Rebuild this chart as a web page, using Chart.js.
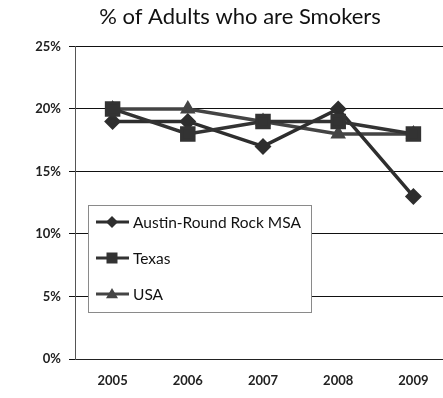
<!DOCTYPE html>
<html>
<head>
<meta charset="utf-8">
<script src="https://cdn.jsdelivr.net/npm/chart.js@4.4.1/dist/chart.umd.min.js"></script>
<style>
  html, body { margin: 0; padding: 0; background: #fff; overflow: hidden; }
  #wrap { width: 480px; height: 398px; }
</style>
</head>
<body>
<div id="wrap"><canvas id="c" width="480" height="398"></canvas></div>
<script>
const years = ['2005', '2006', '2007', '2008', '2009'];
const austin = [19, 19, 17, 20, 13];
const texas = [20, 18, 19, 19, 18];
const usa = [20, 20, 19, 18, 18];
const seriesNames = ['Austin-Round Rock MSA', 'Texas', 'USA'];
const yTicks = [0, 5, 10, 15, 20, 25];

function marker(ctx, style, x, y, r, color) {
  ctx.save();
  ctx.fillStyle = color;
  ctx.beginPath();
  if (style === 'rectRot') {
    ctx.moveTo(x, y - r); ctx.lineTo(x + r, y); ctx.lineTo(x, y + r); ctx.lineTo(x - r, y);
  } else if (style === 'rect') {
    ctx.rect(x - r, y - r, r * 2, r * 2);
  } else {
    ctx.moveTo(x, y - r); ctx.lineTo(x + r, y + r * 0.7); ctx.lineTo(x - r, y + r * 0.7);
  }
  ctx.closePath();
  ctx.fill();
  ctx.restore();
}

// Boxed legend drawn inside the plot area
const boxLegend = {
  id: 'boxLegend',
  afterDatasetsDraw(chart) {
    const ctx = chart.ctx;
    const bx = 88, by = 205, bw = 223, bh = 107;
    ctx.save();
    ctx.fillStyle = '#fff';
    ctx.fillRect(bx, by, bw, bh);
    ctx.strokeStyle = '#8a8a8a';
    ctx.lineWidth = 1;
    ctx.strokeRect(bx + 0.5, by + 0.5, bw, bh);
    const rows = [222, 258, 294];
    const sizes = { rectRot: 6, rect: 5.5, triangle: 6 };
    chart.data.datasets.forEach((ds, i) => {
      const y = rows[i];
      ctx.strokeStyle = ds.borderColor;
      ctx.lineWidth = 3;
      ctx.beginPath();
      ctx.moveTo(96, y); ctx.lineTo(129, y);
      ctx.stroke();
      marker(ctx, ds.pointStyle, 112, y, sizes[ds.pointStyle], ds.borderColor);
      ctx.fillStyle = '#111';
      ctx.font = '15.5px Lato';
      ctx.textBaseline = 'middle';
      ctx.textAlign = 'left';
      ctx.fillText(ds.label, 133, y + 1);
    });
    ctx.restore();
  }
};

new Chart(document.getElementById('c'), {
  type: 'line',
  data: {
    labels: years,
    datasets: [
      { label: seriesNames[0], data: austin, borderColor: '#2e2e2e', backgroundColor: '#2e2e2e', order: 1,
        pointStyle: 'rectRot', pointRadius: 6, borderWidth: 3.5, tension: 0 },
      { label: seriesNames[1], data: texas, borderColor: '#333', backgroundColor: '#333', order: 0,
        pointStyle: 'rect', pointRadius: 8.5, borderWidth: 3.5, tension: 0 },
      { label: seriesNames[2], data: usa, borderColor: '#444', backgroundColor: '#444', order: 2,
        pointStyle: 'triangle', pointRadius: 5.5, borderWidth: 3.5, tension: 0 }
    ]
  },
  options: {
    responsive: false,
    animation: false,
    devicePixelRatio: 1,
    layout: { padding: 0 },
    plugins: {
      legend: { display: false },
      tooltip: { enabled: false },
      title: {
        display: true,
        text: '% of Adults who are Smokers',
        color: '#111',
        font: { family: 'Lato', size: 22, weight: 'normal' },
        padding: { top: 4, bottom: 16 }
      }
    },
    scales: {
      x: {
        offset: true,
        grid: { display: true, drawOnChartArea: false, drawTicks: false },
        border: { display: true, color: '#222', width: 1 },
        ticks: { color: '#222', font: { family: 'Lato', size: 13, weight: 'bold' }, padding: 14, maxRotation: 0 },
        afterFit(scale) { scale.height = 39; }
      },
      y: {
        min: 0, max: 25,
        afterBuildTicks(scale) { scale.ticks = yTicks.map(v => ({ value: v })); },
        grid: { color: '#111', lineWidth: 1, drawTicks: true, tickLength: 6 },
        border: { display: true, color: '#555', width: 1 },
        ticks: {
          color: '#222',
          font: { family: 'Lato', size: 13, weight: 'bold' },
          padding: 8,
          callback: v => v + '%'
        },
        afterFit(scale) { scale.width = 75; }
      },
      // empty right-hand margin axis
      yr: {
        position: 'right',
        min: 0, max: 25,
        grid: { display: false },
        border: { display: false },
        ticks: { display: false },
        afterFit(scale) { scale.width = 29; }
      }
    }
  },
  plugins: [boxLegend]
});
</script>
</body>
</html>
